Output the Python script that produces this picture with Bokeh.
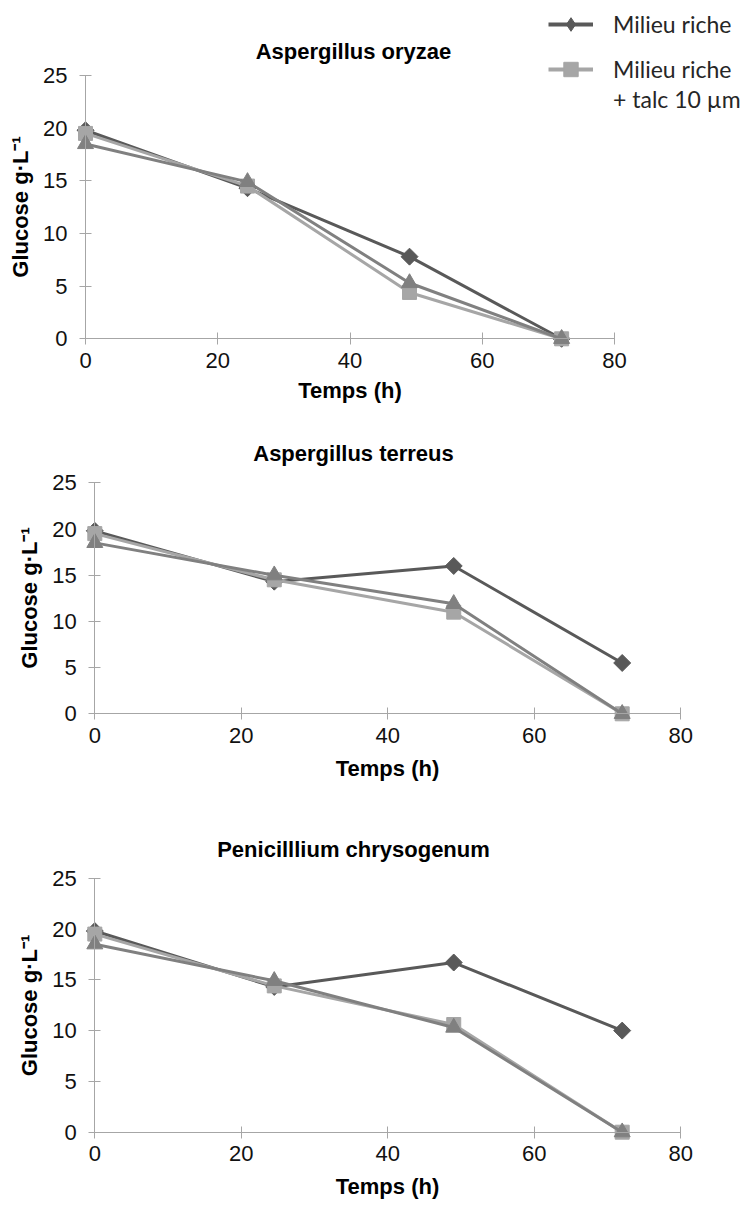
import numpy as np
from bokeh.plotting import figure
from bokeh.models import Range1d, FixedTicker, Label, Legend, LegendItem
from bokeh.layouts import column
from bokeh.embed import file_html
from bokeh.resources import INLINE

# ---------------- data ----------------
times = [0, 24.5, 49, 72]
x_ticks = [0, 20, 40, 60, 80]
y_ticks = [0, 5, 10, 15, 20, 25]

titles = ["Aspergillus oryzae", "Aspergillus terreus", "Penicilllium chrysogenum"]
legend_labels = ["Milieu riche", "Milieu riche", "+ talc 10 µm"]
x_label = "Temps (h)"
y_label = "Glucose g·L⁻¹"

oryzae_riche = [19.8, 14.3, 7.8, 0.0]
oryzae_talc = [19.5, 14.5, 4.4, 0.0]
oryzae_serie3 = [18.5, 14.9, 5.3, 0.0]

terreus_riche = [19.8, 14.3, 16.0, 5.5]
terreus_talc = [19.5, 14.5, 11.0, 0.0]
terreus_serie3 = [18.5, 15.0, 11.9, 0.0]

chryso_riche = [19.8, 14.3, 16.7, 10.0]
chryso_talc = [19.5, 14.4, 10.6, 0.0]
chryso_serie3 = [18.5, 14.9, 10.3, 0.0]

# ---------------- styles / layout ----------------
W = 741
C_RICHE = "#595959"
C_TALC = "#A6A6A6"
C_S3 = "#808080"
AXIS_C = "#A6A6A6"
FONT = "Liberation Sans"

geoms = [
    dict(h=410, x0=85.0, x80=614.0, y0=338.3, y25=75.0, tx=353, tb=50.7, xls=7),
    dict(h=390, x0=94.3, x80=680.3, y0=303.3, y25=72.3, tx=353, tb=42.7, xls=10),
    dict(h=407, x0=94.3, x80=680.3, y0=331.7, y25=77.7, tx=353, tb=49.0, xls=9),
]


def make_panel(title, riche, talc, s3, g, with_legend=False):
    sx = (g["x80"] - g["x0"]) / 80.0
    sy = (g["y0"] - g["y25"]) / 25.0
    xr = Range1d(-g["x0"] / sx, (W - g["x0"]) / sx)
    yr = Range1d(-(g["h"] - g["y0"]) / sy, g["y0"] / sy)
    p = figure(width=W, height=g["h"], x_range=xr, y_range=yr,
               toolbar_location=None, output_backend="svg",
               min_border_left=0, min_border_right=0,
               min_border_top=0, min_border_bottom=0)
    p.outline_line_color = None
    p.xgrid.visible = False
    p.ygrid.visible = False

    xa = p.xaxis[0]
    xa.fixed_location = 0
    xa.bounds = (0, 80)
    xa.ticker = FixedTicker(ticks=x_ticks)
    xa.minor_tick_line_color = None
    xa.major_tick_in = 6
    xa.major_tick_out = 6
    xa.axis_line_color = AXIS_C
    xa.major_tick_line_color = AXIS_C
    xa.major_label_standoff = 8
    xa.major_label_text_font = FONT
    xa.major_label_text_font_size = "22px"
    xa.major_label_text_color = "#111111"
    xa.axis_label = x_label
    xa.axis_label_standoff = g["xls"]
    xa.axis_label_text_font = FONT
    xa.axis_label_text_font_size = "22px"
    xa.axis_label_text_font_style = "bold"
    xa.axis_label_text_color = "#000000"

    ya = p.yaxis[0]
    ya.fixed_location = 0
    ya.bounds = (0, 25)
    ya.ticker = FixedTicker(ticks=y_ticks)
    ya.minor_tick_line_color = None
    ya.major_tick_in = 6
    ya.major_tick_out = 6
    ya.axis_line_color = AXIS_C
    ya.major_tick_line_color = AXIS_C
    ya.major_label_standoff = 12
    ya.major_label_text_font = FONT
    ya.major_label_text_font_size = "22px"
    ya.major_label_text_color = "#111111"
    ya.axis_label = y_label
    ya.axis_label_standoff = 7
    ya.axis_label_text_font = FONT
    ya.axis_label_text_font_size = "22px"
    ya.axis_label_text_font_style = "bold"
    ya.axis_label_text_color = "#000000"

    p.line(times, riche, line_color=C_RICHE, line_width=3)
    p.scatter(times, riche, marker="square", angle=np.pi / 4, size=12,
              fill_color=C_RICHE, line_color=C_RICHE)
    p.line(times, talc, line_color=C_TALC, line_width=3)
    p.scatter(times, talc, marker="square", size=14,
              fill_color=C_TALC, line_color=C_TALC)
    p.line(times, s3, line_color=C_S3, line_width=3)
    p.scatter(times, s3, marker="triangle", size=16,
              fill_color=C_S3, line_color=C_S3)

    # title
    ty = yr.end - g["tb"] / sy
    tx = xr.start + g["tx"] / sx
    p.add_layout(Label(x=tx, y=ty, text=title, text_align="center",
                       text_baseline="alphabetic", text_font=FONT,
                       text_font_size="22px", text_font_style="bold",
                       text_color="#000000"))

    if with_legend:
        # legend-only glyphs (hidden in the plot itself)
        kw = dict(visible=False)
        lg_l1 = p.line(times, riche, line_color=C_RICHE, line_width=4, **kw)
        lg_m1 = p.scatter(times, riche, marker="diamond", fill_color=C_RICHE,
                          line_color=C_RICHE, **kw)
        lg_l2 = p.line(times, talc, line_color=C_TALC, line_width=4, **kw)
        lg_m2 = p.scatter(times, talc, marker="square", fill_color=C_TALC,
                          line_color=C_TALC, **kw)
        dummy = p.line(times, riche, line_alpha=0, **kw)
        common = dict(padding=0, margin=0, spacing=0, border_line_color=None,
                      background_fill_alpha=0, glyph_width=45,
                      inactive_fill_alpha=0,
                      label_standoff=20, label_text_font="Lato",
                      label_text_font_size="23px", label_text_color="#262626")
        h = g["h"]
        leg1 = Legend(items=[LegendItem(label=legend_labels[0], renderers=[lg_l1, lg_m1])],
                      location=(548, h - 40.7), glyph_height=34,
                      label_height=34, **common)
        leg2 = Legend(items=[LegendItem(label=legend_labels[1], renderers=[lg_l2, lg_m2])],
                      location=(548, h - 86.7), glyph_height=36,
                      label_height=36, **common)
        leg3 = Legend(items=[LegendItem(label=legend_labels[2], renderers=[dummy])],
                      location=(548, h - 114.0), glyph_height=30,
                      label_height=30, **common)
        p.add_layout(leg1)
        p.add_layout(leg2)
        p.add_layout(leg3)
    return p


p1 = make_panel(titles[0], oryzae_riche, oryzae_talc, oryzae_serie3, geoms[0], True)
p2 = make_panel(titles[1], terreus_riche, terreus_talc, terreus_serie3, geoms[1])
p3 = make_panel(titles[2], chryso_riche, chryso_talc, chryso_serie3, geoms[2])

layout = column(p1, p2, p3, spacing=0)
open("out.html", "w").write(file_html(layout, INLINE))
